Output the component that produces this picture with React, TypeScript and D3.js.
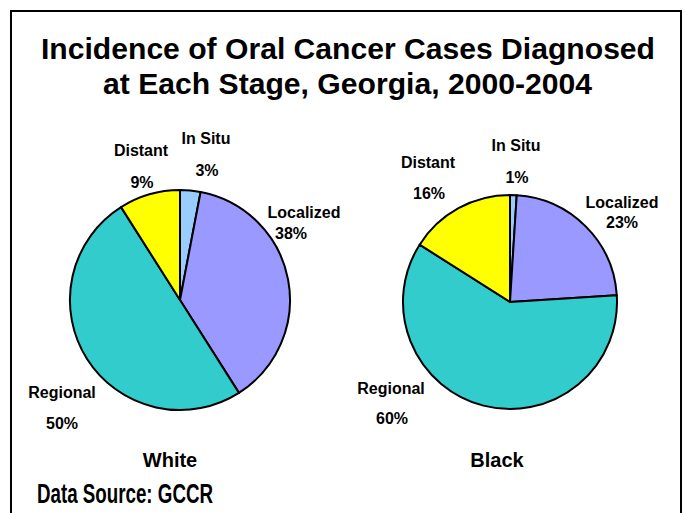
import React from "react";
import * as d3 from "d3";

const stages = ["In Situ", "Localized", "Regional", "Distant"];
const whiteValues = [3, 38, 50, 9];
const blackValues = [1, 23, 60, 16];
const groups = ["White", "Black"];
const titleLines = ["Incidence of Oral Cancer Cases Diagnosed", "at Each Stage, Georgia, 2000-2004"];
const sourceText = "Data Source: GCCR";
const stageColors = ["#99CCFF", "#9999FF", "#33CCCC", "#FFFF00"];

// layout (not data)
const pieLayout = [
  { cx: 180, cy: 300, r: 110, labelX: 170 },
  { cx: 510, cy: 302, r: 107, labelX: 497 },
];
const labelPos = [
  [
    [[206, 138], [207, 170]],
    [[304, 212], [291, 233]],
    [[62, 392], [62, 423]],
    [[141, 150], [142, 182]],
  ],
  [
    [[516, 145], [517, 177]],
    [[622, 202], [622, 222]],
    [[391, 388], [392, 418]],
    [[428, 162], [429, 193]],
  ],
];
const titleLayout = [
  { x: 348, y: 59, len: 614 },
  { x: 347.5, y: 94, len: 489 },
];

const FONT = "Arial, 'Liberation Sans', Helvetica, sans-serif";

export default function App() {
  const W = 685, H = 513;
  const pie = d3.pie<number>().sort(null).value((d) => d);
  const datasets = [whiteValues, blackValues];
  const fmt = d3.format(".0%");
  return (
    <svg
      width={W}
      height={H}
      style={{ position: "absolute", left: 0, top: 0, display: "block", background: "#fff" }}
      fontFamily={FONT}
    >
      <rect x={0} y={0} width={W} height={H} fill="#fff" />
      <rect x={11} y={11} width={670} height={540} fill="none" stroke="#000" strokeWidth={2} />
      {titleLines.map((t, i) => (
        <text
          key={i}
          x={titleLayout[i].x}
          y={titleLayout[i].y}
          textAnchor="middle"
          fontSize={29}
          fontWeight="bold"
          textLength={titleLayout[i].len}
          lengthAdjust="spacingAndGlyphs"
        >
          {t}
        </text>
      ))}
      {datasets.map((vals, gi) => {
        const L = pieLayout[gi];
        const arc = d3.arc<d3.PieArcDatum<number>>().innerRadius(0).outerRadius(L.r);
        const arcs = pie(vals);
        const t = d3.sum(vals);
        return (
          <g key={gi}>
            <g transform={`translate(${L.cx},${L.cy})`}>
              {arcs.map((a, i) => (
                <path key={i} d={arc(a) || ""} fill={stageColors[i]} stroke="#000" strokeWidth={2} strokeLinejoin="round" />
              ))}
            </g>
            {stages.map((s, i) => (
              <g key={s} fontSize={16} fontWeight="bold">
                <text x={labelPos[gi][i][0][0]} y={labelPos[gi][i][0][1]} textAnchor="middle" dominantBaseline="central">
                  {s}
                </text>
                <text x={labelPos[gi][i][1][0]} y={labelPos[gi][i][1][1]} textAnchor="middle" dominantBaseline="central">
                  {fmt(vals[i] / t)}
                </text>
              </g>
            ))}
            <text x={L.labelX} y={467} textAnchor="middle" fontSize={20} fontWeight="bold">
              {groups[gi]}
            </text>
          </g>
        );
      })}
      <text
        x={37}
        y={503}
        fontSize={27}
        fontWeight="bold"
        textLength={176}
        lengthAdjust="spacingAndGlyphs"
      >
        {sourceText}
      </text>
    </svg>
  );
}
